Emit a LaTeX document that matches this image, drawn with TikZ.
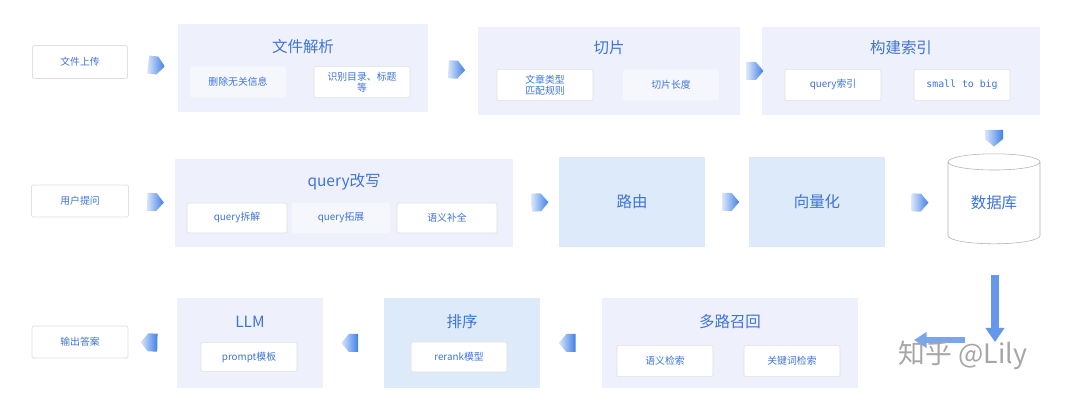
\documentclass[tikz,border=0pt]{standalone}
\usepackage{fontspec}
\setmainfont{Noto Sans CJK SC}
\newfontfamily\monofont{DejaVu Sans Mono}
\usetikzlibrary{positioning,shapes.geometric,shapes.arrows,arrows.meta}
\definecolor{groupbg}{HTML}{EEF1FB}
\definecolor{subbg}{HTML}{F5F7FD}
\definecolor{stepbg}{HTML}{DCEAFA}
\definecolor{txtblue}{HTML}{3F74D6}
\definecolor{arrowblue}{HTML}{3F7FE6}
\tikzset{
  group/.style={fill=groupbg,draw=none,inner sep=0pt},
  stage/.style={fill=stepbg,draw=none,inner sep=0pt,text=txtblue,font=\fontsize{11}{13}\selectfont},
  title/.style={text=txtblue,font=\fontsize{11}{13}\selectfont},
  item/.style={fill=white,draw=gray!25,rounded corners=1pt,inner sep=0pt,text=txtblue,
    font=\fontsize{7}{8}\selectfont,align=center,minimum width=2.4cm,minimum height=0.78cm},
  plain/.style={item,draw=none,fill=subbg},
  chev/.style={single arrow,sloped,allow upside down,minimum height=0.42cm,minimum width=0.45cm,
    single arrow head extend=0pt,single arrow tip angle=100,inner sep=0pt,draw=none,
    left color=arrowblue!20,right color=arrowblue}
}
\begin{document}
\begin{tikzpicture}[x=0.025cm,y=-0.025cm]
 \useasboundingbox (0,0) rectangle (1080,405);

 %Row 1
 \node (upload) [item,minimum width=2.375cm,minimum height=0.825cm] at (80,62) {文件上传};
 \node (parse) [group,minimum width=6.25cm,minimum height=2.2cm] at (303,68) {};
 \node (parse-t) [title] at (303,47) {文件解析};
 \node (del) [plain] at (238,82) {删除无关信息};
 \node (toc) [item] at (362,82) {识别目录、标题\\等};
 \node (slice) [group,minimum width=6.55cm,minimum height=2.2cm] at (609,71) {};
 \node (slice-t) [title] at (609,48) {切片};
 \node (type) [item] at (545,85) {文章类型\\匹配规则};
 \node (len) [plain] at (671,85) {切片长度};
 \node (index) [group,minimum width=6.925cm,minimum height=2.2cm] at (901,71) {};
 \node (index-t) [title] at (901,48) {构建索引};
 \node (qidx) [item] at (833,85) {query索引};
 \node (s2b) [item,font={\fontsize{7}{8}\monofont}] at (962,85) {small to big};

 %Row 2
 \node (ask) [item,minimum width=2.425cm,minimum height=0.8cm] at (80,201) {用户提问};
 \node (rewrite) [group,minimum width=8.45cm,minimum height=2.175cm] at (344,203) {};
 \node (rewrite-t) [title] at (344,182) {query改写};
 \node (split) [item,minimum width=2.5cm,minimum height=0.75cm] at (237,218) {query拆解};
 \node (expand) [plain,minimum width=2.45cm,minimum height=0.75cm] at (341,218) {query拓展};
 \node (fill) [item,minimum width=2.5cm,minimum height=0.75cm] at (447,218) {语义补全};
 \node (route) [stage,minimum width=3.625cm,minimum height=2.225cm] at (632,202) {路由};
 \node (vec) [stage,minimum width=3.375cm,minimum height=2.225cm] at (817,202) {向量化};
 \node (db) [cylinder,shape border rotate=90,aspect=0.35,draw=gray!60,fill=white,text=txtblue,
   font=\fontsize{11}{13}\selectfont,minimum width=2.3cm,minimum height=2.25cm,inner sep=0pt] at (994,203) {数据库};

 %Row 3
 \node (recall) [group,minimum width=6.375cm,minimum height=2.25cm] at (730,343) {};
 \node (recall-t) [title] at (730,322) {多路召回};
 \node (sem) [item] at (665,361) {语义检索};
 \node (kw) [item] at (792,361) {关键词检索};
 \node (sort) [stage,minimum width=3.875cm,minimum height=2.25cm] at (462,343) {};
 \node (sort-t) [title] at (462,322) {排序};
 \node (rerank) [item,minimum height=0.75cm] at (459,357) {rerank模型};
 \node (llm) [group,minimum width=3.625cm,minimum height=2.25cm] at (250,343) {};
 \node (llm-t) [title] at (250,322) {LLM};
 \node (tmpl) [item,minimum height=0.73cm] at (249,357) {prompt模板};
 \node (out) [item,minimum width=2.4cm,minimum height=0.8cm] at (80,342) {输出答案};

 \coordinate (drop) at (995,275);
 \coordinate (turn) at (995,342);
 \coordinate (back) at (965,340);

 %Arrows
 \path (upload.east) -- node[chev] {} (parse.west);
 \path (parse.east) -- node[chev] {} (slice.west);
 \path (slice.east) -- node[chev] {} (index.west);
 \path (index.south -| db.north) -- node[chev] {} (db.north);
 \path (ask.east) -- node[chev] {} (rewrite.west);
 \path (rewrite.east) -- node[chev] {} (route.west);
 \path (route.east) -- node[chev] {} (vec.west);
 \path (vec.east) -- node[chev] {} (db.west);
 \path (recall.west) -- node[chev] {} (sort.east);
 \path (sort.west) -- node[chev] {} (llm.east);
 \path (llm.west) -- node[chev] {} (out.east);
 \draw[arrowblue!80,line width=5pt,-{Triangle[width=13pt,length=10pt]}] (drop) -- (turn);
 \draw[arrowblue!70,line width=4pt,-{Triangle[width=11pt,length=9pt]}] (back) -- ([xshift=40pt]recall.east |- back);

 \node (mark) [text=gray!70,font=\fontsize{19}{22}\selectfont] at (963,355) {知乎 @Lily};
\end{tikzpicture}
\end{document}
